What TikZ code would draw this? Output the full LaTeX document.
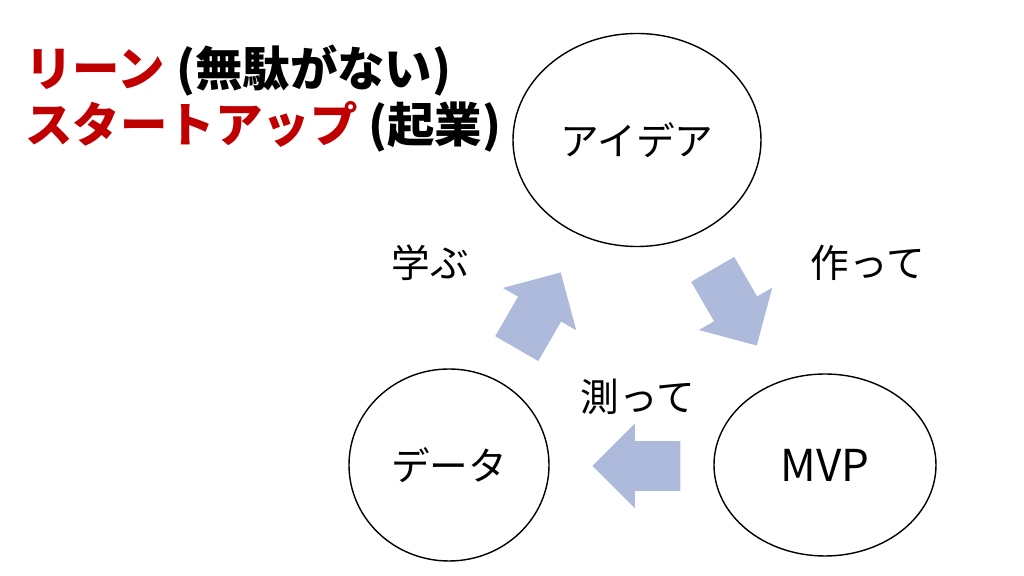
\documentclass[tikz,border=0pt]{standalone}
\usepackage{fontspec}
\setmainfont{Noto Sans CJK JP}
\usepackage{xcolor}
\usetikzlibrary{shapes.geometric,shapes.arrows,positioning}
\definecolor{leanred}{RGB}{192,0,0}
\definecolor{loopblue}{RGB}{174,186,220}
\tikzset{
  ell/.style={ellipse, draw, line width=0.8pt, inner sep=0pt},
  blk/.style={single arrow, fill=loopblue, inner xsep=0pt, inner ysep=0.49cm,
    minimum height=1.76cm, single arrow head extend=0.35cm, anchor=tip},
}

\begin{document}
\begin{tikzpicture}[font=\fontsize{22}{26}\selectfont]
    \useasboundingbox (0,0) rectangle (20.48,11.52);
    % ---- title
    \node[anchor=west, inner sep=0pt, font=\fontsize{27}{32}\selectfont\bfseries]
      (t1) at (0.50,10.10) {\textcolor{leanred}{リーン} (無駄がない)};
    \node[anchor=west, inner sep=0pt, font=\fontsize{27}{32}\selectfont\bfseries]
      (t2) at (0.50,8.98) {\textcolor{leanred}{スタートアップ} (起業)};
    % ---- the three stages
    \node[ell, minimum width=4.96cm, minimum height=4.26cm] (a) at (12.74,8.72) {アイデア};
    \node[ell, minimum width=4.44cm, minimum height=3.64cm,
      font=\fontsize{25}{30}\selectfont] (b) at (16.50,2.22) {MVP};
    \node[ell, minimum width=4.00cm, minimum height=3.84cm] (c) at (8.98,2.22) {データ};
    % ---- block arrows between them (placed by their tips)
    \foreach \n/\x/\y/\r in {ab/15.14/4.60/-60, bc/11.84/2.20/180, ca/11.22/6.08/60}
      { \node[blk, rotate=\r] (\n) at (\x,\y) {}; }
    % ---- step labels
    \node (l1) at (17.36,6.26) {作って};
    \node (l2) at (12.76,3.58) {測って};
    \node (l3) at (8.60,6.26) {学ぶ};
  \end{tikzpicture}
\end{document}
